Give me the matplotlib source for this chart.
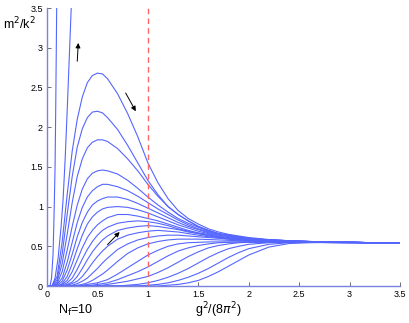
import matplotlib
matplotlib.use("Agg")
import matplotlib.pyplot as plt
import numpy as np

plt.rcParams['font.family'] = ['Liberation Sans', 'DejaVu Sans']

# shared x grid for the family of curves
x_grid = [0, 0.05, 0.1, 0.15, 0.2, 0.25, 0.3, 0.35, 0.4, 0.45, 0.5, 0.55, 0.6,
          0.7, 0.8, 0.9, 1.0, 1.1, 1.2, 1.3, 1.4, 1.5, 1.6, 1.7, 1.8, 1.9, 2.0,
          2.2, 2.4, 2.6, 3.0, 3.5]

# steep curves (own x lists)
steep1_x = [0.03, 0.045, 0.06, 0.07, 0.08, 0.087, 0.096]
steep1_y = [0, 0.1, 0.4, 0.9, 1.5, 2.3, 3.5]
steep2_x = [0.05, 0.08, 0.11, 0.14, 0.16, 0.18, 0.2, 0.22, 0.24]
steep2_y = [0, 0.1, 0.35, 0.75, 1.1, 1.6, 2.2, 2.85, 3.5]

p1 = [0, 0, 0.12, 0.55, 1.15, 1.7, 2.1, 2.38, 2.56, 2.65, 2.68, 2.67, 2.61, 2.42, 2.17, 1.88, 1.55, 1.3, 1.1, 0.95, 0.85, 0.78, 0.72, 0.68, 0.65, 0.63, 0.61, 0.585, 0.57, 0.56, 0.55, 0.54]
p2 = [0, 0, 0.08, 0.4, 0.9, 1.38, 1.75, 1.98, 2.12, 2.19, 2.2, 2.18, 2.12, 1.97, 1.77, 1.55, 1.33, 1.15, 1.0, 0.9, 0.82, 0.75, 0.7, 0.66, 0.64, 0.62, 0.6, 0.58, 0.57, 0.56, 0.55, 0.54]
p3 = [0, 0, 0.05, 0.28, 0.65, 1.05, 1.38, 1.6, 1.74, 1.81, 1.84, 1.84, 1.82, 1.73, 1.6, 1.45, 1.28, 1.13, 1.0, 0.9, 0.82, 0.75, 0.7, 0.66, 0.64, 0.62, 0.6, 0.58, 0.57, 0.56, 0.55, 0.54]
p4 = [0, 0, 0.03, 0.18, 0.45, 0.75, 1.02, 1.22, 1.35, 1.42, 1.45, 1.46, 1.45, 1.41, 1.33, 1.23, 1.12, 1.02, 0.93, 0.85, 0.79, 0.74, 0.69, 0.66, 0.63, 0.61, 0.6, 0.58, 0.57, 0.56, 0.55, 0.54]
p5 = [0, 0, 0.02, 0.1, 0.3, 0.55, 0.8, 0.99, 1.12, 1.2, 1.25, 1.28, 1.28, 1.25, 1.2, 1.13, 1.05, 0.97, 0.9, 0.83, 0.77, 0.72, 0.68, 0.65, 0.63, 0.61, 0.6, 0.58, 0.57, 0.56, 0.55, 0.54]
p6 = [0, 0, 0.01, 0.06, 0.2, 0.4, 0.62, 0.8, 0.93, 1.02, 1.07, 1.1, 1.12, 1.12, 1.09, 1.04, 0.98, 0.92, 0.86, 0.8, 0.75, 0.71, 0.67, 0.64, 0.62, 0.6, 0.59, 0.575, 0.565, 0.56, 0.55, 0.54]
p7 = [0, 0, 0, 0.03, 0.12, 0.28, 0.47, 0.64, 0.78, 0.87, 0.93, 0.97, 0.99, 1.0, 0.99, 0.96, 0.92, 0.87, 0.82, 0.77, 0.73, 0.69, 0.66, 0.63, 0.61, 0.6, 0.59, 0.575, 0.565, 0.56, 0.55, 0.54]
p8 = [0, 0, 0, 0.02, 0.07, 0.18, 0.33, 0.48, 0.61, 0.7, 0.77, 0.82, 0.86, 0.9, 0.9, 0.88, 0.85, 0.82, 0.78, 0.74, 0.7, 0.67, 0.65, 0.62, 0.6, 0.59, 0.58, 0.57, 0.56, 0.555, 0.55, 0.54]
p9 = [0, 0, 0, 0.01, 0.04, 0.1, 0.21, 0.34, 0.46, 0.56, 0.64, 0.7, 0.74, 0.79, 0.81, 0.82, 0.81, 0.79, 0.76, 0.72, 0.69, 0.66, 0.64, 0.62, 0.6, 0.59, 0.58, 0.57, 0.56, 0.555, 0.55, 0.54]
p10 = [0, 0, 0, 0, 0.02, 0.05, 0.12, 0.22, 0.33, 0.43, 0.51, 0.58, 0.63, 0.7, 0.73, 0.75, 0.76, 0.75, 0.73, 0.71, 0.68, 0.66, 0.63, 0.61, 0.6, 0.59, 0.58, 0.57, 0.56, 0.555, 0.55, 0.54]
p11 = [0, 0, 0, 0, 0.01, 0.03, 0.06, 0.12, 0.2, 0.29, 0.37, 0.44, 0.5, 0.59, 0.64, 0.67, 0.69, 0.7, 0.69, 0.68, 0.66, 0.64, 0.62, 0.61, 0.59, 0.58, 0.575, 0.565, 0.56, 0.555, 0.55, 0.54]
p12 = [0, 0, 0, 0, 0, 0.01, 0.03, 0.06, 0.1, 0.16, 0.22, 0.29, 0.35, 0.46, 0.53, 0.58, 0.61, 0.63, 0.64, 0.64, 0.63, 0.62, 0.61, 0.6, 0.59, 0.58, 0.57, 0.565, 0.56, 0.555, 0.55, 0.54]
s1 = [0, 0, 0, 0, 0, 0, 0.01, 0.02, 0.04, 0.07, 0.11, 0.15, 0.2, 0.31, 0.41, 0.48, 0.53, 0.56, 0.58, 0.59, 0.59, 0.59, 0.585, 0.58, 0.575, 0.57, 0.565, 0.56, 0.555, 0.55, 0.55, 0.54]
s2 = [0, 0, 0, 0, 0, 0, 0, 0.01, 0.02, 0.03, 0.04, 0.06, 0.08, 0.15, 0.23, 0.31, 0.39, 0.45, 0.5, 0.53, 0.545, 0.55, 0.555, 0.555, 0.555, 0.555, 0.555, 0.55, 0.55, 0.55, 0.545, 0.54]
s3 = [0, 0, 0, 0, 0, 0, 0, 0, 0.01, 0.01, 0.02, 0.03, 0.04, 0.08, 0.13, 0.18, 0.24, 0.31, 0.38, 0.44, 0.48, 0.51, 0.53, 0.545, 0.55, 0.555, 0.555, 0.55, 0.55, 0.55, 0.545, 0.54]
s4 = [0, 0, 0, 0, 0, 0, 0, 0, 0, 0, 0.01, 0.01, 0.02, 0.04, 0.06, 0.09, 0.12, 0.17, 0.23, 0.3, 0.37, 0.43, 0.48, 0.51, 0.53, 0.545, 0.55, 0.55, 0.55, 0.55, 0.545, 0.54]
s5 = [0, 0, 0, 0, 0, 0, 0, 0, 0, 0, 0, 0, 0, 0, 0.01, 0.02, 0.04, 0.07, 0.11, 0.16, 0.22, 0.29, 0.36, 0.42, 0.47, 0.5, 0.525, 0.545, 0.55, 0.55, 0.545, 0.54]
s6 = [0, 0, 0, 0, 0, 0, 0, 0, 0, 0, 0, 0, 0, 0, 0, 0, 0.01, 0.02, 0.04, 0.07, 0.11, 0.16, 0.22, 0.29, 0.36, 0.42, 0.47, 0.525, 0.545, 0.55, 0.545, 0.54]
s7 = [0, 0, 0, 0, 0, 0, 0, 0, 0, 0, 0, 0, 0, 0, 0, 0, 0, 0, 0.01, 0.02, 0.04, 0.07, 0.12, 0.18, 0.25, 0.32, 0.39, 0.49, 0.535, 0.545, 0.55, 0.54]

grid_curves = [p1, p2, p3, p4, p5, p6, p7, p8, p9, p10, p11, p12, s1, s2, s3, s4, s5, s6, s7]

xticks = [0, 0.5, 1, 1.5, 2, 2.5, 3, 3.5]
yticks = [0, 0.5, 1, 1.5, 2, 2.5, 3, 3.5]
xtick_labels = ['0', '0.5', '1', '1.5', '2', '2.5', '3', '3.5']
ytick_labels = ['0', '0.5', '1', '1.5', '2', '2.5', '3', '3.5']

# arrows: (x_start, y_start, x_end, y_end)
arrow1 = (0.30, 2.83, 0.31, 3.06)
arrow2 = (0.78, 2.43, 0.88, 2.20)
arrow3 = (0.60, 0.52, 0.72, 0.68)
arrows = [arrow1, arrow2, arrow3]

dashed_x = 1.0

W, H = 409, 323
fig = plt.figure(figsize=(W / 100, H / 100), dpi=100)
ax = fig.add_axes([47 / W, (H - 286) / H, (400 - 47) / W, (286 - 8) / H])

line_color = '#5566ff'
lw = 0.8
ax.plot(steep1_x, steep1_y, color=line_color, lw=lw)
ax.plot(steep2_x, steep2_y, color=line_color, lw=lw)
for c in grid_curves:
    ax.plot(x_grid, c, color=line_color, lw=lw)

ax.axvline(dashed_x, color='#ff6666', lw=1.0, ls=(0, (4, 3)))

for (x0, y0, x1, y1) in arrows:
    ax.annotate('', xy=(x1, y1), xytext=(x0, y0),
                arrowprops=dict(arrowstyle='-|>', color='black', lw=0.7,
                                mutation_scale=7, shrinkA=0, shrinkB=0))

ax.set_xlim(0, 3.5)
ax.set_ylim(0, 3.5)
ax.set_xticks(xticks)
ax.set_xticklabels(xtick_labels)
ax.set_yticks(yticks)
ax.set_yticklabels(ytick_labels)
ax.tick_params(direction='in', length=3, width=0.6, labelsize=6.5, pad=3,
               color='#555555')
for s in ['top', 'right']:
    ax.spines[s].set_visible(False)
for s in ['left', 'bottom']:
    ax.spines[s].set_color('#7a82e0')
    ax.spines[s].set_linewidth(1.0)

fig.text(3 / W, 1 - 24 / H, r'm$^2$/k$^2$', fontsize=9, va='center', ha='left')
fig.text(218 / W, 1 - 310 / H, r'g$^2$/(8$\pi^2$)', fontsize=9, va='center', ha='center')
fig.text(58 / W, 1 - 310 / H, r'N$_{\rm f}$=10', fontsize=9, va='center', ha='left')

fig.savefig('out.png', dpi=100)
